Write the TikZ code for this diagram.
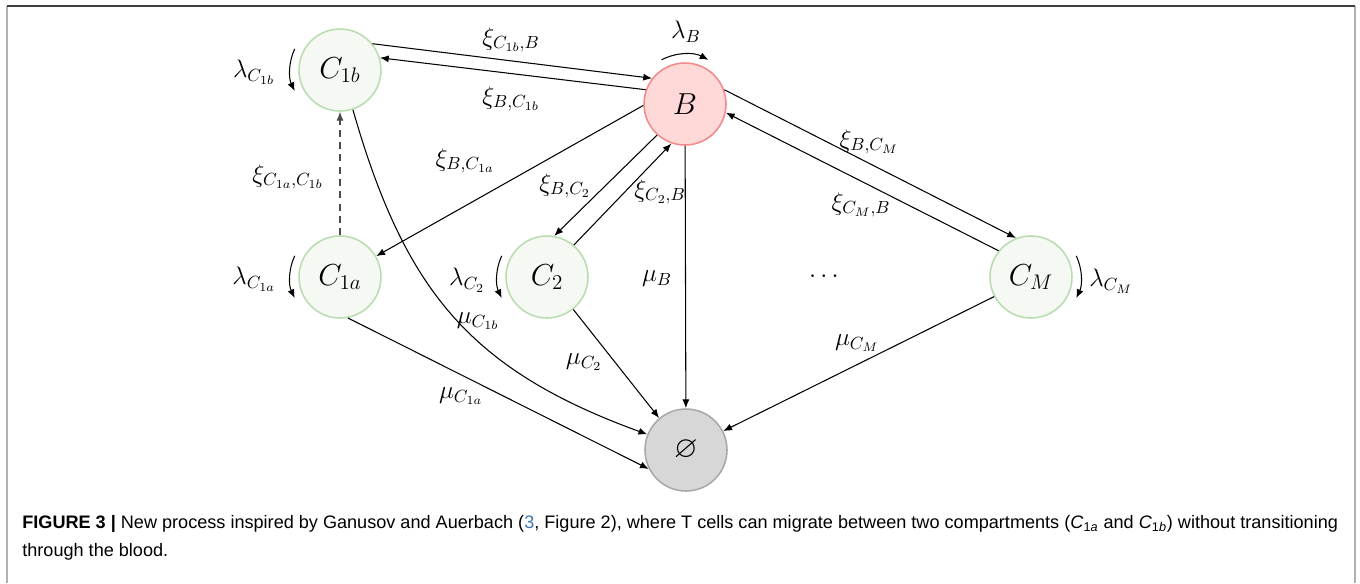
\documentclass[tikz,border=0pt]{standalone}
\usepackage{amssymb}
\usepackage{fontspec}
\usetikzlibrary{arrows.meta}
\newfontfamily\capfont{Liberation Sans}
\definecolor{tissuefill}{HTML}{F6F9F3}
\definecolor{tissuedraw}{HTML}{B9DDB1}
\definecolor{bloodfill}{HTML}{FFD8D8}
\definecolor{blooddraw}{HTML}{F28C8C}
\definecolor{deathfill}{HTML}{D7D7D7}
\definecolor{deathdraw}{HTML}{A9A9A9}
\definecolor{linkblue}{HTML}{3F75B5}

\begin{document}
\begin{tikzpicture}[x=0.02cm,y=-0.02cm,
  comp/.style={circle,minimum size=1.64cm,inner sep=0pt,line width=0.9pt,font=\LARGE},
  tissue/.style={comp,draw=tissuedraw,fill=tissuefill},
  blood/.style={comp,draw=blooddraw,fill=bloodfill},
  death/.style={comp,draw=deathdraw,fill=deathfill},
  rate/.style={font=\Large,inner sep=1pt},
  flow/.style={-{Latex[length=5pt,width=4pt]},line width=0.6pt}]
  \useasboundingbox (0,0) rectangle (1360,583);
  % frame
  \draw[gray!60,line width=1.3pt] (7,583)--(7,6) (1355,6)--(1355,583);
  \draw[black!75,line width=0.7pt] (7,6)--(1355,6);
  % compartments
  \node[tissue] (C1b) at (340,70) {$C_{1b}$};
  \node[blood] (B) at (685,104) {$B$};
  \node[tissue] (C1a) at (340,277) {$C_{1a}$};
  \node[tissue] (C2) at (547,277) {$C_2$};
  \node[tissue] (CM) at (1031,277) {$C_M$};
  \node[death] (O) at (686,450) {$\varnothing$};
  \node[font=\Large] (dots) at (824,277) {$\cdots$};
  % migration
  \draw[flow] (C1b.39)--(B.142);
  \draw[flow] (B.160)--(C1b.17);
  \draw[flow] (B.182)--(C1a.30);
  \draw[flow] (B.228)--(C2.80);
  \draw[flow] (C2.50)--(B.251);
  \draw[flow] (B.20)--(CM.111);
  \draw[flow] (CM.141)--(B.348);
  \draw[flow,black!70,dash pattern=on 4pt off 3pt] (C1a)--(C1b);
  % death
  \draw[flow] (B)--(O);
  \draw[flow] (C2.309)--(O.130);
  \draw[flow] (C1a.281)--(O.207);
  \draw[flow] (CM.208)--(O.27);
  \draw[flow] (C1b.288) to[out=-74,in=160,looseness=1.1] (O.158);
  % proliferation
  \foreach \cell in {C1b,C1a,C2}
    \draw[flow] ([shift={(155:1cm)}]\cell.center) arc[start angle=155,end angle=205,radius=1cm];
  \draw[flow] ([shift={(118:1cm)}]B.center) arc[start angle=118,end angle=62,radius=1cm];
  \draw[flow] ([shift={(25:1cm)}]CM.center) arc[start angle=25,end angle=-25,radius=1cm];
  % rates
  \node[rate] (lamC1b) at (254,72) {$\lambda_{C_{1b}}$};
  \node[rate] (lamB) at (686,32) {$\lambda_B$};
  \node[rate] (lamC1a) at (254,279) {$\lambda_{C_{1a}}$};
  \node[rate] (lamC2) at (467,280) {$\lambda_{C_2}$};
  \node[rate] (lamCM) at (1111,281) {$\lambda_{C_M}$};
  \node[rate] (xiC1bB) at (511,40) {$\xi_{C_{1b},B}$};
  \node[rate] (xiBC1b) at (511,99) {$\xi_{B,C_{1b}}$};
  \node[rate] (xiBC1a) at (465,161) {$\xi_{B,C_{1a}}$};
  \node[rate] (xiC1aC1b) at (288,177) {$\xi_{C_{1a},C_{1b}}$};
  \node[rate] (xiBC2) at (565,186) {$\xi_{B,C_2}$};
  \node[rate] (xiC2B) at (660,192) {$\xi_{C_2,B}$};
  \node[rate] (xiBCM) at (869,142) {$\xi_{B,C_M}$};
  \node[rate] (xiCMB) at (861,205) {$\xi_{C_M,B}$};
  \node[rate] (muB) at (657,279) {$\mu_B$};
  \node[rate] (muC1b) at (478,321) {$\mu_{C_{1b}}$};
  \node[rate] (muC2) at (584,362) {$\mu_{C_2}$};
  \node[rate] (muC1a) at (461,396) {$\mu_{C_{1a}}$};
  \node[rate] (muCM) at (857,343) {$\mu_{C_M}$};
  % caption
  \node[anchor=north west,inner sep=0pt,align=left,
    font=\capfont\fontsize{10.3}{16}\selectfont] (caption) at (22,515)
    {{\bfseries FIGURE 3 |} New process inspired by Ganusov and Auerbach ({\color{linkblue}3}, Figure 2), where T cells can migrate between two compartments (\textit{C}\textsubscript{1\textit{a}} and \textit{C}\textsubscript{1\textit{b}}) without transitioning\\
     through the blood.};
\end{tikzpicture}
\end{document}
